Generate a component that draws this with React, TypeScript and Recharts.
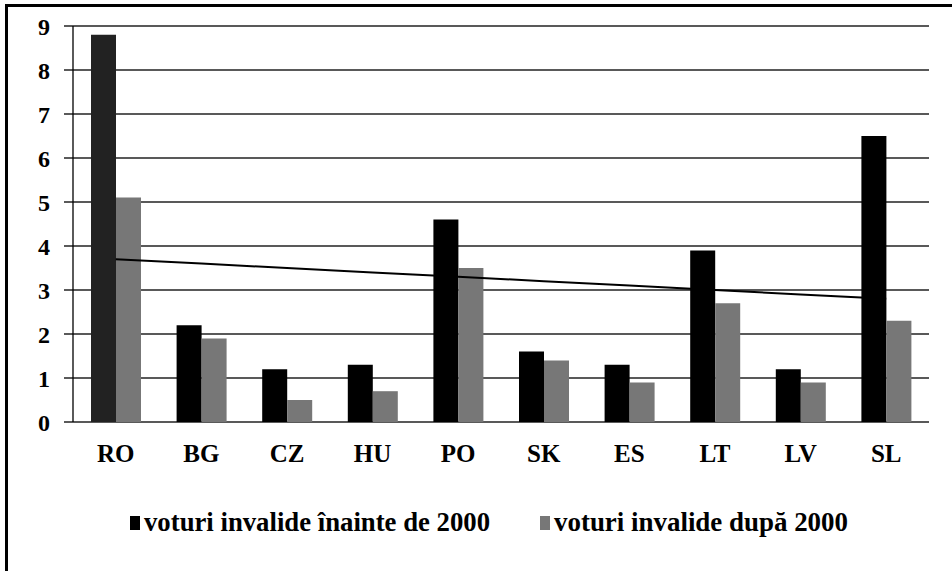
import React from 'react';
import { ComposedChart, Bar, Line, XAxis, YAxis, CartesianGrid, Cell, Legend } from 'recharts';

const categories = ['RO', 'BG', 'CZ', 'HU', 'PO', 'SK', 'ES', 'LT', 'LV', 'SL'];
const before2000 = [8.8, 2.2, 1.2, 1.3, 4.6, 1.6, 1.3, 3.9, 1.2, 6.5];
const after2000 = [5.1, 1.9, 0.5, 0.7, 3.5, 1.4, 0.9, 2.7, 0.9, 2.3];
const trend = [3.7, 3.6, 3.5, 3.4, 3.3, 3.2, 3.1, 3.0, 2.9, 2.8];
const yTicks = [0, 1, 2, 3, 4, 5, 6, 7, 8, 9];
const boundaryTicks = [0, 1, 2, 3, 4, 5, 6, 7, 8, 9, 10];
const seriesNames = ['voturi invalide înainte de 2000', 'voturi invalide după 2000'];

const data = categories.map((c, i) => ({
  cat: c,
  idx: i + 0.5,
  before: before2000[i],
  after: after2000[i],
  trend: trend[i],
}));

const FONT = 'Liberation Serif, Times New Roman, Tinos, serif';

const LegendContent = () => (
  <svg width={952} height={44} style={{ display: 'block' }}>
    <rect x={130} y={16} width={10} height={14} fill="#000" />
    <text x={144} y={31} fontFamily={FONT} fontWeight="bold" fontSize={27} fill="#000"
      textLength={346} lengthAdjust="spacingAndGlyphs">{seriesNames[0]}</text>
    <rect x={540} y={16} width={10} height={14} fill="#777" />
    <text x={554} y={31} fontFamily={FONT} fontWeight="bold" fontSize={27} fill="#000"
      textLength={294} lengthAdjust="spacingAndGlyphs">{seriesNames[1]}</text>
  </svg>
);

export default function App() {
  return (
    <div style={{ position: 'absolute', left: 0, top: 0, width: 952, height: 571, background: '#fff', fontFamily: FONT }}>
      <ComposedChart
        width={952}
        height={571}
        data={data}
        margin={{ top: 26, right: 23, bottom: 65, left: 0 }}
        barGap={0}
      >
        <CartesianGrid vertical={false} stroke="#222" strokeWidth={1.3} />
        <XAxis
          xAxisId="b"
          type="number"
          dataKey="idx"
          domain={[0, 10]}
          ticks={boundaryTicks}
          tick={false}
          tickSize={8}
          height={0}
          axisLine={{ stroke: '#000', strokeWidth: 1.5 }}
          tickLine={{ stroke: '#000', strokeWidth: 1.3 }}
        />
        <XAxis
          dataKey="cat"
          height={40}
          axisLine={false}
          tickLine={false}
          tickSize={0}
          tickMargin={22}
          interval={0}
          tick={{ fontFamily: FONT, fontWeight: 'bold', fontSize: 25, fill: '#000' }}
        />
        <YAxis
          width={73}
          domain={[0, 9]}
          ticks={yTicks}
          interval={0}
          tickSize={9}
          tickMargin={14}
          axisLine={{ stroke: '#000', strokeWidth: 1.3 }}
          tickLine={{ stroke: '#000', strokeWidth: 1.3 }}
          tick={{ fontFamily: FONT, fontWeight: 'bold', fontSize: 24, fill: '#000' }}
        />
        <Bar dataKey="before" name={seriesNames[0]} fill="#000" barSize={25} isAnimationActive={false}>
          {data.map((d, i) => (
            <Cell key={d.cat} fill={i === 0 ? '#222' : '#000'} />
          ))}
        </Bar>
        <Bar dataKey="after" name={seriesNames[1]} fill="#777" barSize={25} isAnimationActive={false} />
        <Line dataKey="trend" stroke="#000" strokeWidth={2} dot={false} activeDot={false} legendType="none" isAnimationActive={false} />
        <Legend
          content={<LegendContent />}
          wrapperStyle={{ position: 'absolute', left: 0, top: 500, width: 952, height: 44 }}
        />
      </ComposedChart>
      <div style={{ position: 'absolute', left: 5, top: 4, width: 947, height: 567, borderTop: '3px solid #000', borderLeft: '3px solid #000', pointerEvents: 'none' }} />
    </div>
  );
}
